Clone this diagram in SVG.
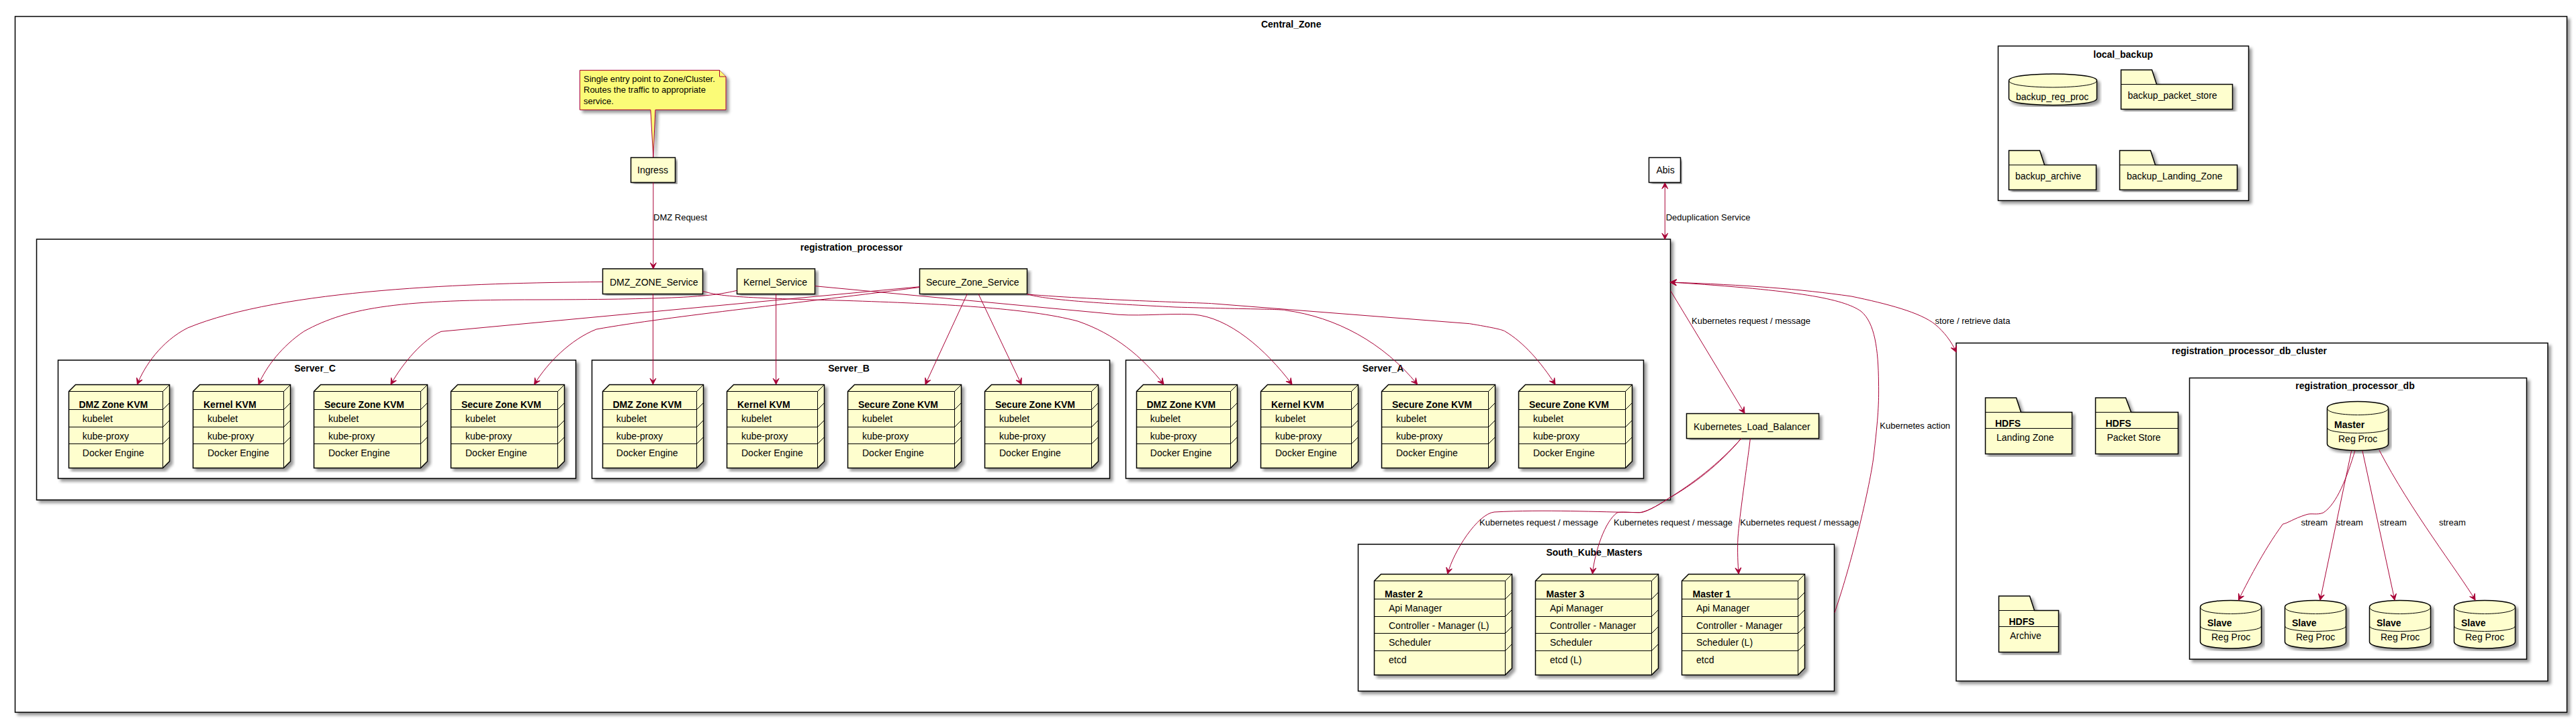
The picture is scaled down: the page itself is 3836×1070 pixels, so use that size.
<svg xmlns="http://www.w3.org/2000/svg" width="3836" height="1070" viewBox="0 0 3836 1070">
<style>
text{font-family:"Liberation Sans",Arial,sans-serif;font-size:14px;fill:#000}
.t{font-weight:bold;text-anchor:middle}
.b{font-weight:bold}
.l{font-size:13px}
.c{fill:#fff;stroke:#000;stroke-width:1.5}
.s{fill:#FEFECE;stroke:#000;stroke-width:1.5}
.w{fill:#fff;stroke:#000;stroke-width:1.5}
.d{fill:none;stroke:#000;stroke-width:1}
.n{fill:#FBFB77;stroke:#A80036;stroke-width:1}
#connectors path{fill:none;stroke:#A80036;stroke-width:1;marker-end:url(#a)}
#connectors path.both{marker-start:url(#a)}
</style>
<defs>
<filter id="sh" x="-5%" y="-5%" width="110%" height="110%"><feGaussianBlur in="SourceAlpha" stdDeviation="2" result="b"/><feColorMatrix in="b" type="matrix" values="0 0 0 0 0 0 0 0 0 0 0 0 0 0 0 0 0 0 .4 0" result="m"/><feOffset in="m" dx="4" dy="4" result="o"/><feBlend in="SourceGraphic" in2="o" mode="normal"/></filter>
<marker id="a" markerUnits="userSpaceOnUse" markerWidth="12" markerHeight="12" refX="10" refY="6" orient="auto-start-reverse"><path d="M10 6L1 1.5L5 6L1 10.5Z" fill="#A80036" stroke="#A80036" stroke-width="1"/></marker>
</defs>
<rect width="3836" height="1070" fill="#fff"/>
<g id="Central_Zone"><rect class="c" x="22.5" y="24.5" width="3800" height="1035.5" filter="url(#sh)"/><text class="t" x="1922.7" y="40.7">Central_Zone</text></g>
<g id="local_backup"><rect class="c" x="2975.5" y="68.5" width="373" height="230" filter="url(#sh)"/><text class="t" x="3161.7" y="85.5">local_backup</text></g>
<g id="registration_processor"><rect class="c" x="54.5" y="356" width="2433" height="388" filter="url(#sh)"/><text class="t" x="1268" y="373">registration_processor</text></g>
<g id="Server_C"><rect class="c" x="86.5" y="536" width="771" height="176" filter="url(#sh)"/><text class="t" x="469" y="552.5">Server_C</text></g>
<g id="Server_B"><rect class="c" x="881.5" y="536" width="771" height="176" filter="url(#sh)"/><text class="t" x="1264" y="552.5">Server_B</text></g>
<g id="Server_A"><rect class="c" x="1676.5" y="536" width="771" height="176" filter="url(#sh)"/><text class="t" x="2059.5" y="552.5">Server_A</text></g>
<g id="South_Kube_Masters"><rect class="c" x="2022.5" y="810" width="709" height="218.5" filter="url(#sh)"/><text class="t" x="2374" y="826.7">South_Kube_Masters</text></g>
<g id="registration_processor_db_cluster"><rect class="c" x="2913" y="510.5" width="881" height="503" filter="url(#sh)"/><text class="t" x="3349.5" y="527">registration_processor_db_cluster</text></g>
<g id="registration_processor_db"><rect class="c" x="3260.5" y="562.5" width="502" height="418.5" filter="url(#sh)"/><text class="t" x="3507" y="579">registration_processor_db</text></g>

<g id="backup_reg_proc"><path class="s" filter="url(#sh)" d="M2991.5 120C2991.5 110 3057 110 3057 110C3057 110 3122.5 110 3122.5 120V146.5C3122.5 156.5 3057 156.5 3057 156.5C3057 156.5 2991.5 156.5 2991.5 146.5Z"/><path class="d" d="M2991.5 120C2991.5 130 3057 130 3057 130C3057 130 3122.5 130 3122.5 120"/><text x="3002" y="149">backup_reg_proc</text></g>
<g id="backup_packet_store"><path class="s" filter="url(#sh)" d="M3158.5 104H3204.5L3211.5 125.5H3324.5V162.5H3158.5Z"/><path class="d" d="M3158.5 125.5H3211.5"/><text x="3168.5" y="147.3">backup_packet_store</text></g>
<g id="backup_archive"><path class="s" filter="url(#sh)" d="M2991.5 224H3037.5L3044.5 245.5H3121.5V282.5H2991.5Z"/><path class="d" d="M2991.5 245.5H3044.5"/><text x="3001" y="267.3">backup_archive</text></g>
<g id="backup_Landing_Zone"><path class="s" filter="url(#sh)" d="M3156.5 224H3202.5L3209.5 245.5H3331.5V282.5H3156.5Z"/><path class="d" d="M3156.5 245.5H3209.5"/><text x="3167" y="267.3">backup_Landing_Zone</text></g>

<g id="note"><path class="n" filter="url(#sh)" d="M863.5 104.5H1071.5L1081 114V163.5H975.9L972.8 234L968.8 163.5H863.5Z"/><path class="n" d="M1071.5 104.5V114H1081"/><text class="l" x="869" y="121.7">Single entry point to Zone/Cluster.</text><text class="l" x="869" y="138.2">Routes the traffic to appropriate</text><text class="l" x="869" y="154.7">service.</text></g>
<g id="Ingress"><rect class="s" x="939.5" y="234.5" width="66" height="37" filter="url(#sh)"/><text x="949" y="258">Ingress</text></g>
<g id="Abis"><rect class="w" x="2455.5" y="234.5" width="47" height="37" filter="url(#sh)"/><text x="2466.4" y="258">Abis</text></g>
<g id="DMZ_ZONE_Service"><rect class="s" x="897.5" y="400" width="149" height="37.5" filter="url(#sh)"/><text x="908" y="425">DMZ_ZONE_Service</text></g>
<g id="Kernel_Service"><rect class="s" x="1097.5" y="400" width="116" height="37.5" filter="url(#sh)"/><text x="1107" y="425">Kernel_Service</text></g>
<g id="Secure_Zone_Service"><rect class="s" x="1369.5" y="400" width="160" height="37.5" filter="url(#sh)"/><text x="1379" y="425">Secure_Zone_Service</text></g>
<g id="Kubernetes_Load_Balancer"><rect class="s" x="2511.5" y="615.5" width="197" height="37" filter="url(#sh)"/><text x="2522" y="640">Kubernetes_Load_Balancer</text></g>

<!-- Server C -->
<g id="c_dmz_kvm"><path class="s" filter="url(#sh)" d="M102.5 582.5L112.5 572.5H252.5V686.5L242.5 696.5H102.5Z"/><path class="d" d="M102.5 582.5H242.5L252.5 572.5M242.5 582.5V696.5M102.5 609.5H242.5L252.5 599.5M102.5 635.5H242.5L252.5 625.5M102.5 660.5H242.5L252.5 650.5"/><text class="b" x="117.5" y="606.7">DMZ Zone KVM</text><text x="122.8" y="627.7">kubelet</text><text x="122.8" y="653.7">kube-proxy</text><text x="122.8" y="678.7">Docker Engine</text></g>
<g id="c_kernel_kvm"><path class="s" filter="url(#sh)" d="M287.5 582.5L297.5 572.5H432.5V686.5L422.5 696.5H287.5Z"/><path class="d" d="M287.5 582.5H422.5L432.5 572.5M422.5 582.5V696.5M287.5 609.5H422.5L432.5 599.5M287.5 635.5H422.5L432.5 625.5M287.5 660.5H422.5L432.5 650.5"/><text class="b" x="303" y="606.7">Kernel KVM</text><text x="309" y="627.7">kubelet</text><text x="309" y="653.7">kube-proxy</text><text x="309" y="678.7">Docker Engine</text></g>
<g id="c_secure_kvm_1"><path class="s" filter="url(#sh)" d="M467.5 582.5L477.5 572.5H636.5V686.5L626.5 696.5H467.5Z"/><path class="d" d="M467.5 582.5H626.5L636.5 572.5M626.5 582.5V696.5M467.5 609.5H626.5L636.5 599.5M467.5 635.5H626.5L636.5 625.5M467.5 660.5H626.5L636.5 650.5"/><text class="b" x="483" y="606.7">Secure Zone KVM</text><text x="489" y="627.7">kubelet</text><text x="489" y="653.7">kube-proxy</text><text x="489" y="678.7">Docker Engine</text></g>
<g id="c_secure_kvm_2"><path class="s" filter="url(#sh)" d="M671.5 582.5L681.5 572.5H840.5V686.5L830.5 696.5H671.5Z"/><path class="d" d="M671.5 582.5H830.5L840.5 572.5M830.5 582.5V696.5M671.5 609.5H830.5L840.5 599.5M671.5 635.5H830.5L840.5 625.5M671.5 660.5H830.5L840.5 650.5"/><text class="b" x="687" y="606.7">Secure Zone KVM</text><text x="693" y="627.7">kubelet</text><text x="693" y="653.7">kube-proxy</text><text x="693" y="678.7">Docker Engine</text></g>
<!-- Server B -->
<g id="b_dmz_kvm"><path class="s" filter="url(#sh)" d="M897.5 582.5L907.5 572.5H1047.5V686.5L1037.5 696.5H897.5Z"/><path class="d" d="M897.5 582.5H1037.5L1047.5 572.5M1037.5 582.5V696.5M897.5 609.5H1037.5L1047.5 599.5M897.5 635.5H1037.5L1047.5 625.5M897.5 660.5H1037.5L1047.5 650.5"/><text class="b" x="912.5" y="606.7">DMZ Zone KVM</text><text x="917.8" y="627.7">kubelet</text><text x="917.8" y="653.7">kube-proxy</text><text x="917.8" y="678.7">Docker Engine</text></g>
<g id="b_kernel_kvm"><path class="s" filter="url(#sh)" d="M1082.5 582.5L1092.5 572.5H1227.5V686.5L1217.5 696.5H1082.5Z"/><path class="d" d="M1082.5 582.5H1217.5L1227.5 572.5M1217.5 582.5V696.5M1082.5 609.5H1217.5L1227.5 599.5M1082.5 635.5H1217.5L1227.5 625.5M1082.5 660.5H1217.5L1227.5 650.5"/><text class="b" x="1098" y="606.7">Kernel KVM</text><text x="1104" y="627.7">kubelet</text><text x="1104" y="653.7">kube-proxy</text><text x="1104" y="678.7">Docker Engine</text></g>
<g id="b_secure_kvm_1"><path class="s" filter="url(#sh)" d="M1262.5 582.5L1272.5 572.5H1431.5V686.5L1421.5 696.5H1262.5Z"/><path class="d" d="M1262.5 582.5H1421.5L1431.5 572.5M1421.5 582.5V696.5M1262.5 609.5H1421.5L1431.5 599.5M1262.5 635.5H1421.5L1431.5 625.5M1262.5 660.5H1421.5L1431.5 650.5"/><text class="b" x="1278" y="606.7">Secure Zone KVM</text><text x="1284" y="627.7">kubelet</text><text x="1284" y="653.7">kube-proxy</text><text x="1284" y="678.7">Docker Engine</text></g>
<g id="b_secure_kvm_2"><path class="s" filter="url(#sh)" d="M1466.5 582.5L1476.5 572.5H1635.5V686.5L1625.5 696.5H1466.5Z"/><path class="d" d="M1466.5 582.5H1625.5L1635.5 572.5M1625.5 582.5V696.5M1466.5 609.5H1625.5L1635.5 599.5M1466.5 635.5H1625.5L1635.5 625.5M1466.5 660.5H1625.5L1635.5 650.5"/><text class="b" x="1482" y="606.7">Secure Zone KVM</text><text x="1488" y="627.7">kubelet</text><text x="1488" y="653.7">kube-proxy</text><text x="1488" y="678.7">Docker Engine</text></g>
<!-- Server A -->
<g id="a_dmz_kvm"><path class="s" filter="url(#sh)" d="M1692.5 582.5L1702.5 572.5H1842.5V686.5L1832.5 696.5H1692.5Z"/><path class="d" d="M1692.5 582.5H1832.5L1842.5 572.5M1832.5 582.5V696.5M1692.5 609.5H1832.5L1842.5 599.5M1692.5 635.5H1832.5L1842.5 625.5M1692.5 660.5H1832.5L1842.5 650.5"/><text class="b" x="1707.5" y="606.7">DMZ Zone KVM</text><text x="1712.8" y="627.7">kubelet</text><text x="1712.8" y="653.7">kube-proxy</text><text x="1712.8" y="678.7">Docker Engine</text></g>
<g id="a_kernel_kvm"><path class="s" filter="url(#sh)" d="M1877.5 582.5L1887.5 572.5H2022.5V686.5L2012.5 696.5H1877.5Z"/><path class="d" d="M1877.5 582.5H2012.5L2022.5 572.5M2012.5 582.5V696.5M1877.5 609.5H2012.5L2022.5 599.5M1877.5 635.5H2012.5L2022.5 625.5M1877.5 660.5H2012.5L2022.5 650.5"/><text class="b" x="1893" y="606.7">Kernel KVM</text><text x="1899" y="627.7">kubelet</text><text x="1899" y="653.7">kube-proxy</text><text x="1899" y="678.7">Docker Engine</text></g>
<g id="a_secure_kvm_1"><path class="s" filter="url(#sh)" d="M2057.5 582.5L2067.5 572.5H2226.5V686.5L2216.5 696.5H2057.5Z"/><path class="d" d="M2057.5 582.5H2216.5L2226.5 572.5M2216.5 582.5V696.5M2057.5 609.5H2216.5L2226.5 599.5M2057.5 635.5H2216.5L2226.5 625.5M2057.5 660.5H2216.5L2226.5 650.5"/><text class="b" x="2073" y="606.7">Secure Zone KVM</text><text x="2079" y="627.7">kubelet</text><text x="2079" y="653.7">kube-proxy</text><text x="2079" y="678.7">Docker Engine</text></g>
<g id="a_secure_kvm_2"><path class="s" filter="url(#sh)" d="M2261.5 582.5L2271.5 572.5H2430.5V686.5L2420.5 696.5H2261.5Z"/><path class="d" d="M2261.5 582.5H2420.5L2430.5 572.5M2420.5 582.5V696.5M2261.5 609.5H2420.5L2430.5 599.5M2261.5 635.5H2420.5L2430.5 625.5M2261.5 660.5H2420.5L2430.5 650.5"/><text class="b" x="2277" y="606.7">Secure Zone KVM</text><text x="2283" y="627.7">kubelet</text><text x="2283" y="653.7">kube-proxy</text><text x="2283" y="678.7">Docker Engine</text></g>
<!-- Masters -->
<g id="Master_2"><path class="s" filter="url(#sh)" d="M2046.5 864.5L2056.5 854.5H2251.5V994.5L2241.5 1004.5H2046.5Z"/><path class="d" d="M2046.5 864.5H2241.5L2251.5 854.5M2241.5 864.5V1004.5M2046.5 891.5H2241.5L2251.5 881.5M2046.5 917.5H2241.5L2251.5 907.5M2046.5 942.5H2241.5L2251.5 932.5M2046.5 968.5H2241.5L2251.5 958.5"/><text class="b" x="2062" y="888.5">Master 2</text><text x="2068" y="910">Api Manager</text><text x="2068" y="936">Controller - Manager (L)</text><text x="2068" y="961">Scheduler</text><text x="2068" y="987">etcd</text></g>
<g id="Master_3"><path class="s" filter="url(#sh)" d="M2286.5 864.5L2296.5 854.5H2469.5V994.5L2459.5 1004.5H2286.5Z"/><path class="d" d="M2286.5 864.5H2459.5L2469.5 854.5M2459.5 864.5V1004.5M2286.5 891.5H2459.5L2469.5 881.5M2286.5 917.5H2459.5L2469.5 907.5M2286.5 942.5H2459.5L2469.5 932.5M2286.5 968.5H2459.5L2469.5 958.5"/><text class="b" x="2302.5" y="888.5">Master 3</text><text x="2308" y="910">Api Manager</text><text x="2308" y="936">Controller - Manager</text><text x="2308" y="961">Scheduler</text><text x="2308" y="987">etcd (L)</text></g>
<g id="Master_1"><path class="s" filter="url(#sh)" d="M2504.5 864.5L2514.5 854.5H2687.5V994.5L2677.5 1004.5H2504.5Z"/><path class="d" d="M2504.5 864.5H2677.5L2687.5 854.5M2677.5 864.5V1004.5M2504.5 891.5H2677.5L2687.5 881.5M2504.5 917.5H2677.5L2687.5 907.5M2504.5 942.5H2677.5L2687.5 932.5M2504.5 968.5H2677.5L2687.5 958.5"/><text class="b" x="2520.5" y="888.5">Master 1</text><text x="2526" y="910">Api Manager</text><text x="2526" y="936">Controller - Manager</text><text x="2526" y="961">Scheduler (L)</text><text x="2526" y="987">etcd</text></g>
<!-- HDFS -->
<g id="hdfs_landing_zone"><path class="s" filter="url(#sh)" d="M2956.5 592H3002.5L3009.5 613.5H3085.5V675.5H2956.5Z"/><path class="d" d="M2956.5 613.5H3009.5M2956.5 637.5H3085.5"/><text class="b" x="2971" y="635">HDFS</text><text x="2973" y="655.7">Landing Zone</text></g>
<g id="hdfs_packet_store"><path class="s" filter="url(#sh)" d="M3120.5 592H3165.5L3173.5 613.5H3243.5V675.5H3120.5Z"/><path class="d" d="M3120.5 613.5H3173.5M3120.5 637.5H3243.5"/><text class="b" x="3135.5" y="635">HDFS</text><text x="3137.5" y="655.7">Packet Store</text></g>
<g id="hdfs_archive"><path class="s" filter="url(#sh)" d="M2976.5 887H3022.5L3029.5 908.5H3065.5V970.5H2976.5Z"/><path class="d" d="M2976.5 908.5H3029.5M2976.5 932.5H3065.5"/><text class="b" x="2991.5" y="930">HDFS</text><text x="2993" y="950.7">Archive</text></g>
<!-- Databases -->
<g id="db_master"><path class="s" filter="url(#sh)" d="M3465.5 607.5C3465.5 597.5 3511 597.5 3511 597.5C3511 597.5 3556.5 597.5 3556.5 607.5V660.5C3556.5 670.5 3511 670.5 3511 670.5C3511 670.5 3465.5 670.5 3465.5 660.5Z"/><path class="d" d="M3465.5 607.5C3465.5 617.5 3511 617.5 3511 617.5C3511 617.5 3556.5 617.5 3556.5 607.5M3465.5 636.5C3465.5 644.5 3511 644.5 3511 644.5C3511 644.5 3556.5 644.5 3556.5 636.5"/><text class="b" x="3476" y="636.5">Master</text><text x="3482" y="657.5">Reg Proc</text></g>
<g id="db_slave_1"><path class="s" filter="url(#sh)" d="M3276.5 903.5C3276.5 893.5 3322 893.5 3322 893.5C3322 893.5 3367.5 893.5 3367.5 903.5V955C3367.5 965 3322 965 3322 965C3322 965 3276.5 965 3276.5 955Z"/><path class="d" d="M3276.5 903.5C3276.5 913.5 3322 913.5 3322 913.5C3322 913.5 3367.5 913.5 3367.5 903.5M3276.5 931.5C3276.5 939.5 3322 939.5 3322 939.5C3322 939.5 3367.5 939.5 3367.5 931.5"/><text class="b" x="3287" y="931.7">Slave</text><text x="3293" y="952.7">Reg Proc</text></g>
<g id="db_slave_2"><path class="s" filter="url(#sh)" d="M3402.5 903.5C3402.5 893.5 3448 893.5 3448 893.5C3448 893.5 3493.5 893.5 3493.5 903.5V955C3493.5 965 3448 965 3448 965C3448 965 3402.5 965 3402.5 955Z"/><path class="d" d="M3402.5 903.5C3402.5 913.5 3448 913.5 3448 913.5C3448 913.5 3493.5 913.5 3493.5 903.5M3402.5 931.5C3402.5 939.5 3448 939.5 3448 939.5C3448 939.5 3493.5 939.5 3493.5 931.5"/><text class="b" x="3413" y="931.7">Slave</text><text x="3419" y="952.7">Reg Proc</text></g>
<g id="db_slave_3"><path class="s" filter="url(#sh)" d="M3528.5 903.5C3528.5 893.5 3574 893.5 3574 893.5C3574 893.5 3619.5 893.5 3619.5 903.5V955C3619.5 965 3574 965 3574 965C3574 965 3528.5 965 3528.5 955Z"/><path class="d" d="M3528.5 903.5C3528.5 913.5 3574 913.5 3574 913.5C3574 913.5 3619.5 913.5 3619.5 903.5M3528.5 931.5C3528.5 939.5 3574 939.5 3574 939.5C3574 939.5 3619.5 939.5 3619.5 931.5"/><text class="b" x="3539" y="931.7">Slave</text><text x="3545" y="952.7">Reg Proc</text></g>
<g id="db_slave_4"><path class="s" filter="url(#sh)" d="M3654.5 903.5C3654.5 893.5 3700 893.5 3700 893.5C3700 893.5 3745.5 893.5 3745.5 903.5V955C3745.5 965 3700 965 3700 965C3700 965 3654.5 965 3654.5 955Z"/><path class="d" d="M3654.5 903.5C3654.5 913.5 3700 913.5 3700 913.5C3700 913.5 3745.5 913.5 3745.5 903.5M3654.5 931.5C3654.5 939.5 3700 939.5 3700 939.5C3700 939.5 3745.5 939.5 3745.5 931.5"/><text class="b" x="3665" y="931.7">Slave</text><text x="3671" y="952.7">Reg Proc</text></g>

<g id="connectors">
<path d="M972.8 271.5V400"/>
<path class="both" d="M2479.3 272V356"/>
<path d="M897.5 419.5C700 421 420 430 279.4 488C240 508 215 545 204.4 572"/>
<path d="M1097.5 432.3C1060 441 1020 445.5 800 446C600 446 520 456 452.8 493C420 515 397 545 385 572"/>
<path d="M1369.5 426.7L657 493.3C630 505 600 540 582 572"/>
<path d="M1369.5 427.5C1200 450 1000 470 888 490C850 505 815 540 795.7 572"/>
<path d="M972.4 437.5V572"/>
<path d="M1155.6 437.5V572"/>
<path d="M1440.3 437.5L1378 572"/>
<path d="M1457 437.5L1521 572"/>
<path d="M1046.5 433.3C1070 440 1085 443 1258 447.3C1400 452 1530 458 1605 478C1660 497 1700 530 1733 572"/>
<path d="M1213.5 425.7L1650 466.7C1690 472 1730 466 1777 468C1830 472 1885 520 1924 572"/>
<path d="M1529.5 437.7C1560 447 1650 452 1750 457C1850 460 1910 460 1914 461.7C1990 472 2060 510 2110.6 572"/>
<path d="M1529.5 438C1640 447 1800 451 1804.6 451.7L2188.5 481.7C2220 487 2235 490 2240.6 492.7C2270 510 2295 540 2316 572"/>
<path d="M2487.9 433L2598 615"/>
<path d="M2592.9 652.5C2560 690 2520 720 2484.7 741.7C2465 755 2450 762 2441.3 762.7C2380 762 2300 758 2225 762C2200 765 2165 820 2155.6 854"/>
<path d="M2592.9 652.5C2560 692 2520 722 2484.7 741.7C2465 755 2450 762 2444 762.7C2430 763 2415 761 2408 763C2390 776 2375 820 2371.4 854"/>
<path d="M2606.4 652.5C2602 690 2590 770 2588 800C2587 820 2588 840 2589 854"/>
<path d="M2732 911.7C2760 830 2785 720 2790 680C2797 620 2798 600 2797.5 570C2797 520 2792 480 2771 463C2745 445 2680 432 2487.5 420"/>
<path class="both" d="M2487.5 420C2600 424 2680 430 2757 441C2810 452 2860 465 2882 483C2895 494 2906 508 2913 524"/>
<path d="M3506.8 671C3495 710 3480 750 3459.7 763C3450 767 3442 763 3433.9 766C3415 772 3408 778 3399.4 780C3370 820 3345 870 3333.4 893"/>
<path d="M3501.6 671L3455 893"/>
<path d="M3518 671L3566 893"/>
<path d="M3543 670C3590 760 3660 850 3686 893"/>
</g>
<g id="labels">
<text class="l" x="973" y="328">DMZ Request</text>
<text class="l" x="2480.7" y="327.7">Deduplication Service</text>
<text class="l" x="2519" y="481.7">Kubernetes request / message</text>
<text class="l" x="2881.4" y="481.7">store / retrieve data</text>
<text class="l" x="2799.3" y="638.3">Kubernetes action</text>
<text class="l" x="2203" y="781.7">Kubernetes request / message</text>
<text class="l" x="2403" y="781.7">Kubernetes request / message</text>
<text class="l" x="2591.3" y="781.7">Kubernetes request / message</text>
<text class="l" x="3426.4" y="781.7">stream</text>
<text class="l" x="3479" y="781.7">stream</text>
<text class="l" x="3544" y="781.7">stream</text>
<text class="l" x="3632" y="781.7">stream</text>
</g>
</svg>
